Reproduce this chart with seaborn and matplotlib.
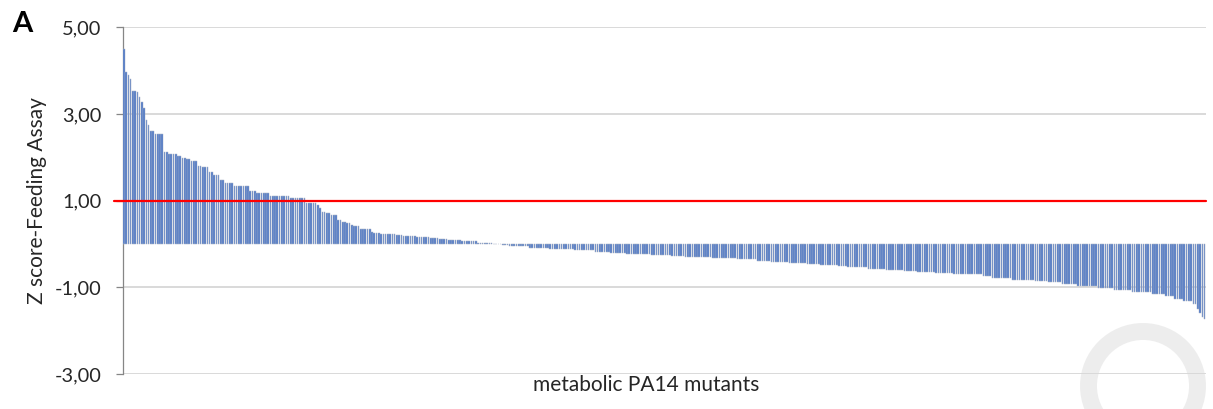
import numpy as np
import pandas as pd
import matplotlib
matplotlib.use("Agg")
import matplotlib.pyplot as plt
import matplotlib.transforms as mtrans
import seaborn as sns
from matplotlib.patches import Circle

# Z-score levels (sorted) and how many mutants sit on each level
levels = [4.50, 3.98, 3.90, 3.80, 3.54, 3.50, 3.39, 3.29, 3.15, 2.86,
          2.74, 2.61, 2.54, 2.12, 2.08, 2.03, 1.99, 1.97, 1.92, 1.81,
          1.79, 1.66, 1.59, 1.48, 1.42, 1.34, 1.22, 1.18, 1.12, 1.06,
          0.95, 0.90, 0.84, 0.75, 0.71, 0.67, 0.55, 0.52, 0.48, 0.45,
          0.42, 0.34, 0.28, 0.26, 0.23, 0.21, 0.18, 0.16, 0.14, 0.12,
          0.09, 0.06, 0.03, 0.01, -0.02, -0.05, -0.08, -0.12, -0.14, -0.18,
          -0.20, -0.22, -0.25, -0.27, -0.30, -0.32, -0.35, -0.39, -0.42, -0.43,
          -0.46, -0.48, -0.51, -0.54, -0.57, -0.60, -0.62, -0.64, -0.66, -0.69,
          -0.70, -0.73, -0.78, -0.82, -0.85, -0.88, -0.92, -0.96, -1.02, -1.06,
          -1.11, -1.15, -1.19, -1.26, -1.32, -1.39, -1.49, -1.60, -1.68, -1.74]
counts = [1, 1, 1, 1, 2, 1, 1, 1, 1, 1,
          1, 2, 4, 2, 4, 2, 2, 2, 3, 2,
          3, 2, 3, 2, 4, 7, 3, 6, 9, 7,
          5, 1, 1, 2, 2, 3, 2, 2, 2, 1,
          3, 5, 1, 3, 7, 3, 6, 6, 4, 4,
          6, 7, 7, 4, 3, 9, 9, 11, 9, 7,
          7, 11, 9, 6, 12, 11, 9, 6, 8, 8,
          6, 8, 4, 9, 8, 8, 6, 8, 8, 5,
          8, 4, 9, 10, 6, 6, 7, 9, 7, 8,
          9, 6, 4, 4, 4, 2, 1, 1, 1, 1]
threshold = 1.0
y_ticks = [-3, -1, 1, 3, 5]
y_tick_labels = ["-3,00", "-1,00", "1,00", "3,00", "5,00"]

zscores = np.repeat(levels, counts)
df = pd.DataFrame({"mutant": np.arange(len(zscores)), "z": zscores})

sns.set_theme(style="white")
plt.rcParams["font.family"] = ["Lato", "DejaVu Sans"]

fig = plt.figure(figsize=(12.13, 4.09), dpi=100)
ax = fig.add_axes([0.101, 0.0856, 0.893, 0.8472])

for t in [5, 3, -1, -3]:
    ax.axhline(t, color="#d9d9d9", lw=1.4, zorder=0)

sns.barplot(data=df, x="mutant", y="z", color="#4a76c6", saturation=1,
            edgecolor="#a9b3c6", linewidth=0.35, width=0.72, ax=ax, zorder=2)

ax.plot([-0.008, 1.0], [threshold, threshold], color="#ff0000", lw=1.6,
        transform=ax.get_yaxis_transform(), clip_on=False, zorder=3)

ax.set_xlim(-0.6, len(zscores) - 0.5)
ax.set_ylim(-3, 5)
ax.set_yticks(y_ticks)
ax.set_yticklabels(y_tick_labels, fontsize=14.4, color="#262626")
ax.set_xticks([])
ax.tick_params(axis="y", which="major", length=5, width=0.9, color="#868686",
               left=True, pad=10)
for s in ["top", "right", "bottom"]:
    ax.spines[s].set_visible(False)
ax.spines["left"].set_color("#868686")
ax.spines["left"].set_linewidth(0.9)
ax.spines["left"].set_zorder(1.5)

ax.set_ylabel("Z score-Feeding Assay", fontsize=15, color="#262626")
ax.yaxis.label.set_verticalalignment("center")
ax.yaxis.set_label_coords(-0.0794, 0.5)
ax.set_xlabel("metabolic PA14 mutants", fontsize=15, color="#262626")
ax.xaxis.label.set_verticalalignment("center")
ax.xaxis.set_label_coords((646.5 - 122.5) / 1083.5, -0.032)

fig.text(0.010, 0.942, "A", fontsize=21, fontweight="bold", color="black",
         ha="left", va="center")

ring = Circle((1143, 409 - 386), radius=54.5,
              transform=mtrans.IdentityTransform(), fill=False,
              edgecolor="#d8d8d8", alpha=0.45, lw=12.2, zorder=5)
fig.patches.append(ring)

fig.savefig("out.png", dpi=100)
